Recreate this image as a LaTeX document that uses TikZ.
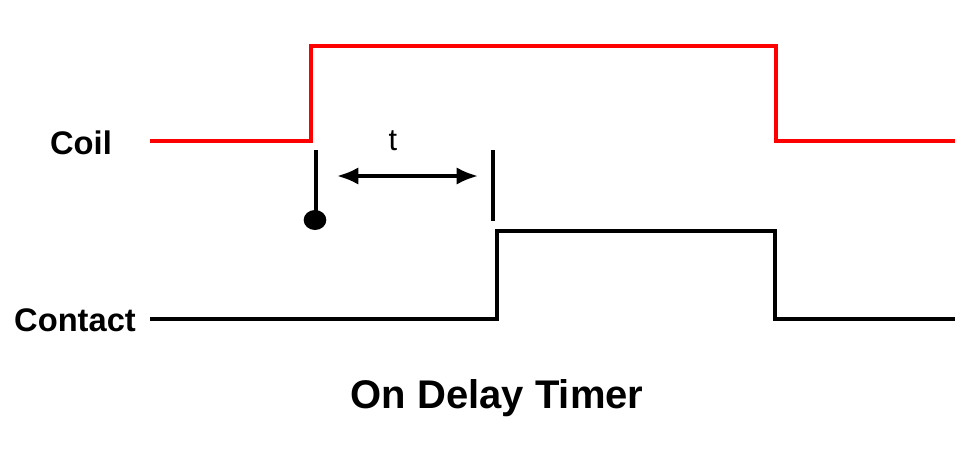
\documentclass[tikz,border=0pt]{standalone}
\usepackage{fontspec}
\setmainfont{Liberation Sans}
\usetikzlibrary{arrows.meta,shapes.geometric}
\begin{document}
\begin{tikzpicture}[x=0.75pt,y=-0.75pt,
  sig/.style={line width=2.6pt},
  lbl/.style={font=\fontsize{24.5}{28}\selectfont\bfseries},
  tick/.style={line width=2.6pt}]
\useasboundingbox (0,0) rectangle (980,453);
\coordinate (c0) at (150,141); \coordinate (c1) at (311,141); \coordinate (c2) at (311,46);
\coordinate (c3) at (776,46); \coordinate (c4) at (776,141); \coordinate (c5) at (955,141);
\draw[sig,red] (c0) -- (c1) -- (c2) -- (c3) -- (c4) -- (c5);
\coordinate (k0) at (150,319); \coordinate (k1) at (497,319); \coordinate (k2) at (497,231);
\coordinate (k3) at (775,231); \coordinate (k4) at (775,319); \coordinate (k5) at (955,319);
\draw[sig] (k0) -- (k1) -- (k2) -- (k3) -- (k4) -- (k5);
\coordinate (t1) at (316,150); \coordinate (t2) at (316,212);
\draw[tick] (t1) -- (t2);
\node[ellipse,fill,inner sep=0,minimum width=17pt,minimum height=15pt] (dot) at (315,220) {};
\coordinate (u1) at (493,150); \coordinate (u2) at (493,221);
\draw[tick] (u1) -- (u2);
\coordinate (a1) at (337,176); \coordinate (a2) at (478,176);
\draw[line width=2.6pt,{Latex[length=16pt,width=13pt]}-{Latex[length=16pt,width=13pt]}] (a1) -- (a2);
\node[font=\fontsize{23}{26}\selectfont] (t) at (393,141) {t};
\node[lbl] (coil) at (81,143) {Coil};
\node[lbl] (contact) at (75,320) {Contact};
\node[font=\fontsize{30}{34}\selectfont\bfseries] (title) at (497,398) {On Delay Timer};
\end{tikzpicture}
\end{document}
